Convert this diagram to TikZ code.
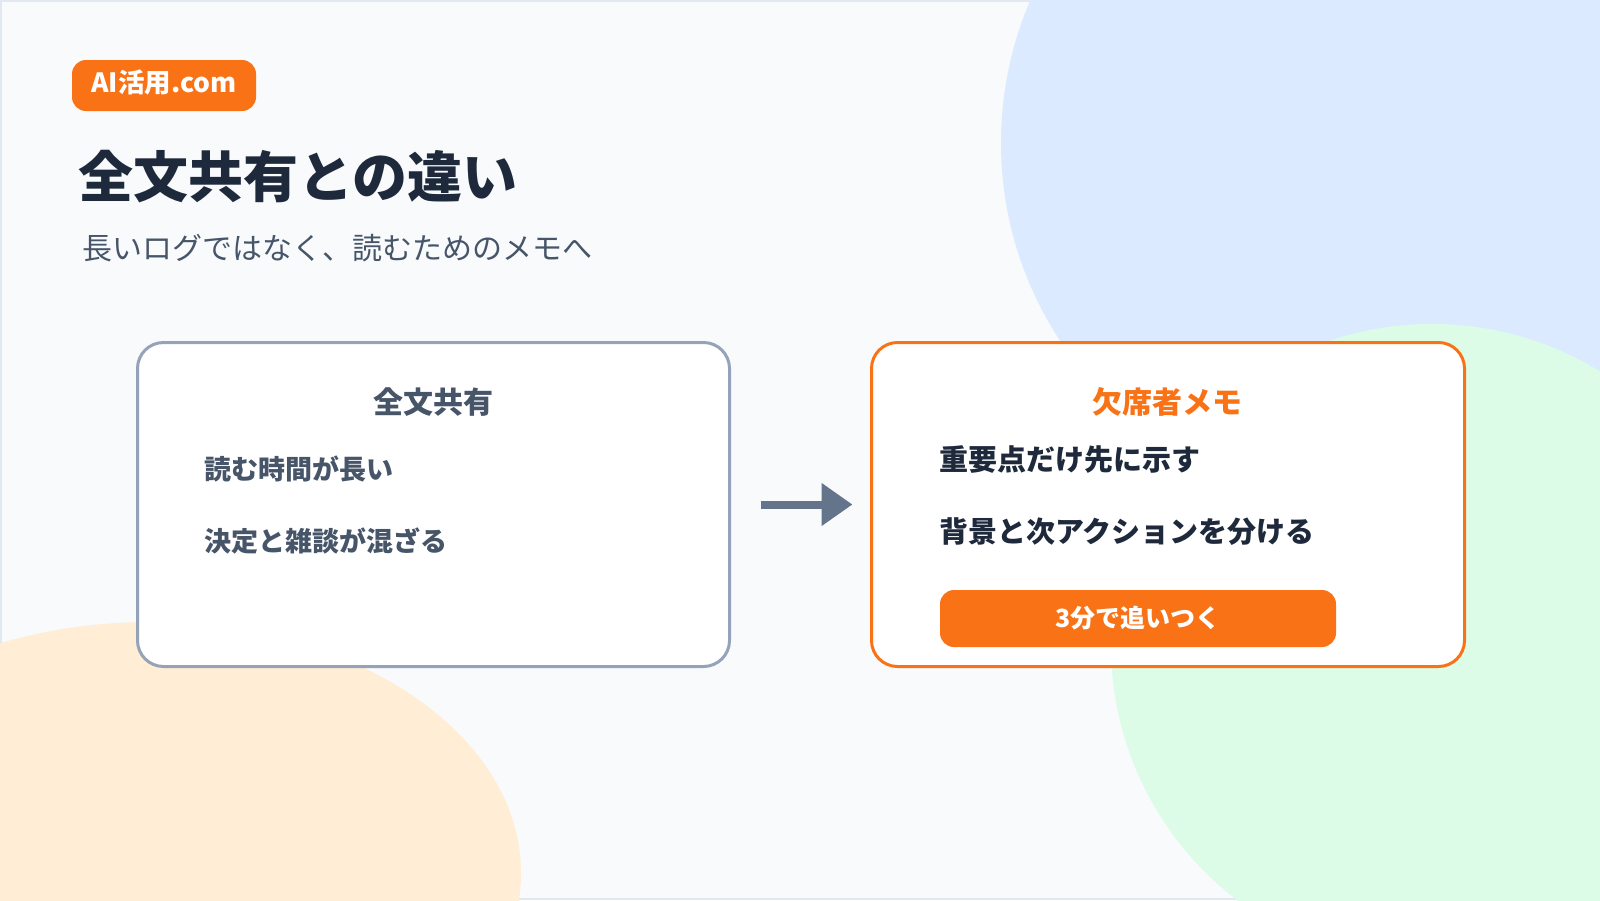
\documentclass[tikz,border=0pt]{standalone}
\usepackage{fontspec}
\setmainfont{Noto Sans CJK JP}
\usetikzlibrary{arrows.meta}
\definecolor{bgc}{HTML}{F8FAFC}
\definecolor{framec}{HTML}{E2E8F0}
\definecolor{blobblue}{HTML}{DBEAFE}
\definecolor{blobgreen}{HTML}{DCFCE7}
\definecolor{blobpeach}{HTML}{FFEDD5}
\definecolor{accent}{HTML}{F97316}
\definecolor{slateborder}{HTML}{94A3B8}
\definecolor{slatetext}{HTML}{475569}
\definecolor{arrowc}{HTML}{64748B}
\definecolor{navy}{HTML}{1E293B}
\tikzset{
  fsz/.style={font=\fontsize{#1}{#1}\selectfont},
  bfsz/.style={font=\bfseries\fontsize{#1}{#1}\selectfont},
  card/.style={line width=3pt, fill=white, rounded corners=26pt,
    minimum height=324pt, inner sep=0pt, outer sep=0pt},
  leftcard/.style={card, draw=slateborder, minimum width=592pt},
  rightcard/.style={card, draw=accent, minimum width=593pt},
  badgebox/.style={fill=accent, text=white, rounded corners=14pt,
    minimum width=184pt, minimum height=51pt, inner sep=0pt, bfsz=26.5},
  btnbox/.style={fill=accent, text=white, rounded corners=14pt,
    minimum width=396pt, minimum height=57pt, inner sep=0pt, bfsz=25},
  item/.style={anchor=west, inner sep=0pt},
  cardtitle/.style={inner sep=0pt, bfsz=30},
  flow/.style={draw=arrowc, line width=8pt, -{Triangle[length=31pt,width=41pt]}}
}
\begin{document}
\begin{tikzpicture}[x=1pt,y=-1pt]
\useasboundingbox (0,0) rectangle (1600,900);
\fill[framec] (0,0) rectangle (1600,900);
\fill[bgc] (2,2) rectangle (1598,898);
\begin{scope}
  \clip (0,0) rectangle (1600,900);
  \fill[blobblue] (1361,143) circle[radius=360pt];
  \fill[blobgreen] (1432,645) circle[radius=321pt];
  \fill[blobpeach] (150,873) ellipse[x radius=371pt, y radius=251pt];
\end{scope}

\node[badgebox] (badge) at (164,85.5) {\raisebox{3.5pt}[\height][\depth]{AI活用.com}};
\node[item, text=navy, bfsz=55] (title) at (78,177) {全文共有との違い};
\node[item, text=slatetext, fsz=30] (sub) at (82,248) {長いログではなく、読むためのメモへ};

\node[leftcard] (L) at (433.5,504.5) {};
\node[cardtitle, text=slatetext] (Lt) at (433,402) {全文共有};
\node[item, text=slatetext, bfsz=27] (L1) at (204,469) {読む時間が長い};
\node[item, text=slatetext, bfsz=27] (L2) at (204,541) {決定と雑談が混ざる};

\node[rightcard] (R) at (1168,504.5) {};
\node[cardtitle, text=accent] (Rt) at (1167,402) {欠席者メモ};
\node[item, text=navy, bfsz=29] (R1) at (939,460) {重要点だけ先に示す};
\node[item, text=navy, bfsz=29] (R2) at (939,532) {背景と次アクションを分ける};
\node[btnbox] (btn) at (1138,618.5) {3分で追いつく};

\draw[flow] ([xshift=31pt]L.east) -- ([xshift=-19pt]R.west);
\end{tikzpicture}
\end{document}
